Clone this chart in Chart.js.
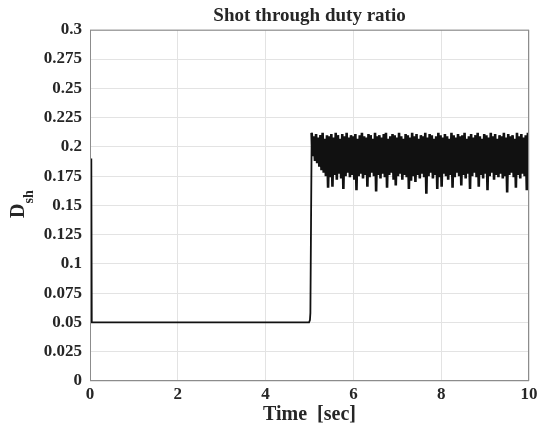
<!DOCTYPE html>
<html>
<head>
<meta charset="utf-8">
<script src="https://cdn.jsdelivr.net/npm/chart.js@4.4.1/dist/chart.umd.min.js"></script>
<style>
  html, body { margin: 0; padding: 0; background: #fff; }
  #wrap { width: 539px; height: 432px; }
</style>
</head>
<body>
<div id="wrap"><canvas id="dutyChart" width="539" height="432"></canvas></div>
<script>
// --- Data ---
const xTicks = [0, 2, 4, 6, 8, 10];
const xTickLabels = ['0', '2', '4', '6', '8', '10'];
const yTicks = [0, 0.025, 0.05, 0.075, 0.1, 0.125, 0.15, 0.175, 0.2, 0.225, 0.25, 0.275, 0.3];
const yTickLabels = ['0', '0.025', '0.05', '0.075', '0.1', '0.125', '0.15', '0.175', '0.2', '0.225', '0.25', '0.275', '0.3'];

// start-up spike and the flat 0.05 section before the step
const leadTime = [0.03, 0.04, 4.99, 5.01, 5.02];
const leadValue = [0.19, 0.05, 0.05, 0.052, 0.058];

// after the step the signal chatters between these two envelopes (5.05 s .. 10 s)
const bandStart = 5.05;
const bandEnd = 9.975;
const bandUpper = [
  0.212, 0.209, 0.211, 0.208, 0.210, 0.212, 0.207, 0.210, 0.209, 0.211,
  0.208, 0.212, 0.210, 0.207, 0.211, 0.209, 0.212, 0.208, 0.210, 0.209,
  0.211, 0.207, 0.210, 0.212, 0.209, 0.208, 0.211, 0.210, 0.207, 0.212,
  0.209, 0.210, 0.208, 0.211, 0.212, 0.207, 0.209, 0.211, 0.210, 0.208,
  0.212, 0.209, 0.207, 0.211, 0.210, 0.208, 0.212, 0.209, 0.211, 0.207,
  0.210, 0.209, 0.212, 0.208, 0.211, 0.210, 0.207, 0.209, 0.212, 0.210,
  0.208, 0.211, 0.209, 0.207, 0.212, 0.210, 0.208, 0.211, 0.209, 0.210,
  0.212, 0.207, 0.209, 0.211, 0.208, 0.210, 0.212, 0.209, 0.207, 0.211,
  0.210, 0.208, 0.212, 0.209, 0.211, 0.207, 0.210, 0.209, 0.212, 0.208,
  0.211, 0.209, 0.210, 0.207, 0.212, 0.209, 0.211, 0.208, 0.210, 0.212
];
const bandLower = [
  0.192, 0.188, 0.186, 0.183, 0.180, 0.178, 0.175, 0.165, 0.174, 0.166,
  0.176, 0.172, 0.177, 0.173, 0.164, 0.175, 0.178, 0.174, 0.176, 0.172,
  0.163, 0.175, 0.177, 0.173, 0.176, 0.166, 0.174, 0.178, 0.175, 0.162,
  0.176, 0.173, 0.177, 0.174, 0.165, 0.176, 0.178, 0.172, 0.167, 0.175,
  0.177, 0.172, 0.176, 0.174, 0.164, 0.171, 0.175, 0.170, 0.176, 0.173,
  0.177, 0.174, 0.160, 0.175, 0.178, 0.173, 0.176, 0.164, 0.174, 0.166,
  0.177, 0.175, 0.172, 0.176, 0.165, 0.174, 0.178, 0.175, 0.167, 0.176,
  0.173, 0.177, 0.164, 0.175, 0.178, 0.174, 0.166, 0.176, 0.173, 0.177,
  0.163, 0.175, 0.178, 0.172, 0.176, 0.174, 0.177, 0.173, 0.175, 0.161,
  0.176, 0.178, 0.174, 0.165, 0.176, 0.173, 0.177, 0.175, 0.163, 0.172
];

// --- Build the point list ---
const points = leadTime.map((t, i) => ({ x: t, y: leadValue[i] }));
const bandStep = (bandEnd - bandStart) / (bandUpper.length - 1);
bandUpper.forEach((hi, i) => {
  const t = bandStart + i * bandStep;
  points.push({ x: t, y: hi });
  points.push({ x: t + bandStep / 2, y: bandLower[i] });
});

const SERIF = "'Liberation Serif', 'Times New Roman', serif";
const TEXT = '#262626';

// frame round the plot + y title with subscript
const framePlugin = {
  id: 'frame',
  afterDraw(chart) {
    const { ctx, chartArea: a } = chart;
    ctx.save();
    ctx.strokeStyle = '#8c8c8c';
    ctx.lineWidth = 1;
    ctx.strokeRect(a.left + 0.5, a.top + 0.5, a.right - a.left - 1, a.bottom - a.top - 1);

    ctx.rotate(-Math.PI / 2);
    ctx.fillStyle = TEXT;
    ctx.textBaseline = 'alphabetic';
    ctx.textAlign = 'left';
    ctx.font = 'bold 20px ' + SERIF;
    const wD = ctx.measureText('D').width;
    ctx.fillText('D', -218, 24);
    ctx.font = 'bold 14px ' + SERIF;
    ctx.fillText('sh', -218 + wD, 33);
    ctx.restore();
  }
};

new Chart(document.getElementById('dutyChart'), {
  type: 'line',
  data: {
    datasets: [{
      data: points,
      borderColor: '#111',
      borderWidth: 1.8,
      pointRadius: 0,
      tension: 0.000001, // keeps Chart.js off its fast path so the chatter fills solid
      segment: {
        borderWidth: c => (c.p0.parsed.x >= bandStart ? 2.6 : 1.8)
      },
      fill: false
    }]
  },
  options: {
    responsive: false,
    animation: false,
    events: [],
    layout: { padding: { left: 0, right: 10, top: 0, bottom: 0 } },
    plugins: {
      legend: { display: false },
      tooltip: { enabled: false },
      title: {
        display: true,
        text: 'Shot through duty ratio',
        fullSize: false,
        color: TEXT,
        font: { family: SERIF, size: 19, weight: 'bold' },
        padding: { top: 5, bottom: 2 }
      }
    },
    scales: {
      x: {
        type: 'linear',
        min: 0,
        max: 10,
        afterBuildTicks: s => { s.ticks = xTicks.map(v => ({ value: v })); },
        afterFit: s => { s.height = 51; s.paddingLeft = 0; s.paddingRight = 0; },
        grid: { color: '#e3e3e3', drawTicks: false },
        border: { display: false },
        ticks: {
          padding: 3,
          maxRotation: 0,
          autoSkip: false,
          color: TEXT,
          font: { family: SERIF, size: 17, weight: 'bold' },
          callback: (v, i) => xTickLabels[i]
        },
        title: {
          display: true,
          text: 'Time  [sec]',
          color: TEXT,
          font: { family: SERIF, size: 20, weight: 'bold' },
          padding: { top: 0, bottom: 5 }
        }
      },
      y: {
        min: 0,
        max: 0.3,
        afterBuildTicks: s => { s.ticks = yTicks.map(v => ({ value: v })); },
        afterFit: s => { s.width = 90; },
        grid: { color: '#e3e3e3', drawTicks: false },
        border: { display: false },
        ticks: {
          padding: 8,
          autoSkip: false,
          color: TEXT,
          font: { family: SERIF, size: 17, weight: 'bold' },
          callback: (v, i) => yTickLabels[i]
        }
      }
    }
  },
  plugins: [framePlugin]
});
</script>
</body>
</html>
